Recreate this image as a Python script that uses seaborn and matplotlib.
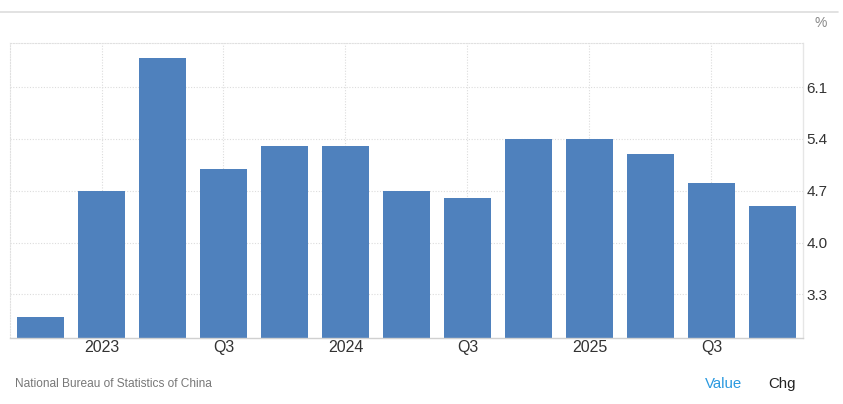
import matplotlib
matplotlib.use("Agg")
import matplotlib.pyplot as plt
import seaborn as sns
import pandas as pd

quarters = ["2022Q4", "2023Q1", "2023Q2", "2023Q3", "2023Q4",
            "2024Q1", "2024Q2", "2024Q3", "2024Q4",
            "2025Q1", "2025Q2", "2025Q3", "2025Q4"]
values = [3.0, 4.7, 6.5, 5.0, 5.3, 5.3, 4.7, 4.6, 5.4, 5.4, 5.2, 4.8, 4.5]
tick_idx = [1, 3, 5, 7, 9, 11]
tick_labels = ["2023", "Q3", "2024", "Q3", "2025", "Q3"]
y_ticks = [3.3, 4.0, 4.7, 5.4, 6.1]

sns.set_style("white")
plt.rcParams["font.family"] = ["Liberation Sans", "DejaVu Sans"]

W, H = 843, 404
fig = plt.figure(figsize=(W / 100, H / 100), dpi=100)
ax = fig.add_axes([10 / W, (H - 338) / H, (803 - 10) / W, (338 - 42.7) / H])

df = pd.DataFrame({"quarter": quarters, "value": values})
sns.barplot(data=df, x="quarter", y="value", color="#4f81bd", saturation=1,
            width=0.765, ax=ax, order=quarters, linewidth=0)

ax.set_xlim(-0.5, 12.5)
ax.set_ylim(2.71, 6.7)
ax.set_xlabel("")
ax.set_ylabel("")

ax.set_xticks(tick_idx)
ax.set_xticklabels(tick_labels)
ax.set_yticks(y_ticks)
ax.set_yticklabels([f"{v:.1f}" for v in y_ticks])
ax.yaxis.tick_right()
ax.tick_params(axis="y", length=0, pad=2.5, labelsize=11, labelcolor="#333333")
ax.tick_params(axis="x", length=0, pad=1.5, labelsize=11.5, labelcolor="#333333")

ax.set_axisbelow(True)
ax.grid(True, axis="both", color="#dcdcdc", linestyle=(0, (1, 1.5)), linewidth=0.8)

for s in ["left", "top"]:
    ax.spines[s].set_color("#e0e0e0")
    ax.spines[s].set_linestyle((0, (1, 1.5)))
    ax.spines[s].set_linewidth(0.8)
ax.spines["bottom"].set_color("#d0d0d0")
ax.spines["bottom"].set_linewidth(1)
ax.spines["right"].set_color("#e6e6e6")
ax.spines["right"].set_linewidth(1)

fig.text(821 / W, 1 - 22.7 / H, "%", ha="center", va="center",
         fontsize=10, color="#888888")
fig.text(15 / W, 1 - 384 / H, "National Bureau of Statistics of China",
         ha="left", va="center", fontsize=8.6, color="#777777")
fig.text(705 / W, 1 - 384 / H, "Value", ha="left", va="center",
         fontsize=10.8, color="#2b9ae0")
fig.text(768 / W, 1 - 384 / H, "Chg", ha="left", va="center",
         fontsize=10.8, color="#222222")

# top page border line
fig.add_artist(plt.Line2D([0, 838 / W], [1 - 12 / H, 1 - 12 / H],
                          color="#dddddd", linewidth=1.2))

fig.savefig("out.png", dpi=100)
